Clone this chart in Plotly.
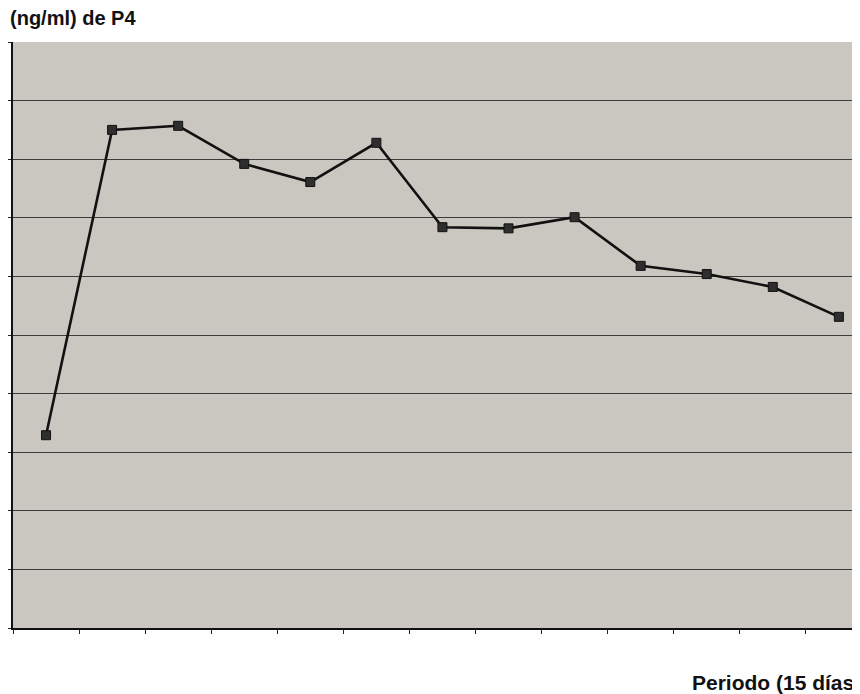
import plotly.graph_objects as go

# Data
periods = [str(i) for i in range(1, 14)]
p4_values = [3.29, 8.50, 8.57, 7.92, 7.61, 8.28, 6.84, 6.82, 7.01, 6.18, 6.04, 5.82, 5.31]

y_title = "(ng/ml) de P4"
x_title = "Periodo (15 días"

# page body has an 8px margin, so the figure starts at (8, 8)
W, H = 852, 686
ML, MR, MT, MB = 5, 0, 34, 66
PW = W - ML - MR
PH = H - MT - MB

fig = go.Figure()
fig.add_trace(go.Scatter(
    x=periods, y=p4_values, mode="lines+markers",
    line=dict(color="#111111", width=2.6),
    marker=dict(symbol="square", size=9, color="#2e2e2e",
                line=dict(color="#111111", width=1)),
    showlegend=False, hoverinfo="skip",
))

fig.update_layout(
    width=W, height=H,
    margin=dict(l=ML, r=MR, t=MT, b=MB),
    paper_bgcolor="white",
    plot_bgcolor="#c9c7c0",
    xaxis=dict(
        type="category", range=[-0.5, 12.32],
        showticklabels=False, ticks="outside", ticklen=4, tickwidth=1,
        tickcolor="#222222", tickson="boundaries",
        showgrid=False, zeroline=False,
        showline=True, linecolor="#111111", linewidth=2,
        fixedrange=True,
    ),
    yaxis=dict(
        range=[0, 10], dtick=1, tick0=0,
        showticklabels=False, ticks="outside", ticklen=4, tickwidth=1,
        tickcolor="#222222",
        showgrid=True, gridcolor="#3c3c3c", gridwidth=1,
        zeroline=False,
        showline=True, linecolor="#111111", linewidth=2,
        fixedrange=True,
    ),
    font=dict(family="Liberation Sans, Arial, sans-serif", color="#111111"),
)

fig.add_annotation(
    text="<b>" + y_title + "</b>", xref="paper", yref="paper",
    x=(0 - ML) / PW, y=(H - MB - 10) / PH, xanchor="left", yanchor="middle",
    showarrow=False, font=dict(size=20, color="#111111"),
)
fig.add_annotation(
    text="<b>" + x_title + "</b>", xref="paper", yref="paper",
    x=(682 - ML) / PW, y=(H - MB - 674) / PH, xanchor="left", yanchor="middle",
    showarrow=False, font=dict(size=21, color="#111111"),
)

fig.write_html("out.html")
